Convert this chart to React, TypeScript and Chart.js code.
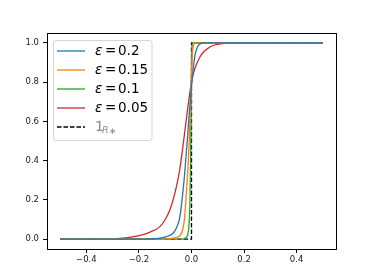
import React, { useEffect, useRef } from "react";
import { Chart, registerables } from "chart.js";

Chart.register(...registerables);

const X_TICKS = [-0.4, -0.2, 0.0, 0.2, 0.4];
const Y_TICKS = [0.0, 0.2, 0.4, 0.6, 0.8, 1.0];

const LABELS = ["ε = 0.2", "ε = 0.15", "ε = 0.1", "ε = 0.05"];
const COLORS = ["#1f77b4", "#ff7f0e", "#2ca02c", "#d62728"];

const X_BLUE = [-0.5, -0.2, -0.15, -0.12, -0.095, -0.07, -0.055, -0.044, -0.032, -0.025, -0.015, -0.008, 0, 0.006, 0.013, 0.02, 0.025, 0.035, 0.045, 0.06, 0.5];
const Y_BLUE = [0, 0, 0.001, 0.005, 0.013, 0.03, 0.065, 0.115, 0.25, 0.35, 0.52, 0.65, 0.78, 0.86, 0.935, 0.97, 0.985, 0.996, 1, 1, 1];

const X_ORANGE = [-0.5, -0.1, -0.07, -0.05, -0.038, -0.03, -0.025, -0.017, -0.013, -0.008, -0.004, 0, 0.004, 0.008, 0.012, 0.5];
const Y_ORANGE = [0, 0, 0.005, 0.012, 0.03, 0.07, 0.13, 0.29, 0.37, 0.52, 0.68, 0.84, 0.95, 0.99, 1, 1];

const X_GREEN = [-0.5, -0.03, -0.025, -0.018, -0.013, -0.009, -0.006, -0.004, -0.002, 0, 0.002, 0.004, 0.5];
const Y_GREEN = [0, 0, 0.005, 0.012, 0.03, 0.08, 0.18, 0.35, 0.6, 0.88, 0.98, 1, 1];

const X_RED = [-0.5, -0.3, -0.25, -0.2, -0.16, -0.12, -0.1, -0.082, -0.07, -0.057, -0.044, -0.03, -0.015, 0, 0.013, 0.031, 0.045, 0.063, 0.08, 0.1, 0.135, 0.2, 0.5];
const Y_RED = [0, 0.002, 0.006, 0.018, 0.035, 0.064, 0.1, 0.15, 0.2, 0.27, 0.36, 0.5, 0.66, 0.8, 0.87, 0.925, 0.952, 0.972, 0.985, 0.992, 0.998, 1, 1];

const X_STEP = [-0.5, 0, 0, 0.5];
const Y_STEP = [0, 0, 1, 1];

const pts = (xs: number[], ys: number[]) => xs.map((x, i) => ({ x, y: ys[i] }));

const legendPlugin = {
  id: "boxLegend",
  afterDraw(chart: any) {
    const ctx = chart.ctx as CanvasRenderingContext2D;
    const area = chart.chartArea;
    const bx = area.left + 6, by = area.top + 7, bw = 98.5, bh = 100;
    ctx.save();
    ctx.globalAlpha = 0.8;
    ctx.fillStyle = "#ffffff";
    ctx.beginPath();
    (ctx as any).roundRect(bx + 0.5, by + 0.5, bw, bh, 2.5);
    ctx.fill();
    ctx.globalAlpha = 1;
    ctx.strokeStyle = "#d6d6d6";
    ctx.lineWidth = 1;
    ctx.stroke();
    const rowH = 19;
    const y0 = by + 11;
    const lx0 = bx + 4, lx1 = bx + 32, tx = bx + 42;
    chart.data.datasets.forEach((ds: any, i: number) => {
      const y = y0 + i * rowH;
      ctx.strokeStyle = ds.borderColor;
      ctx.lineWidth = 1.3;
      ctx.setLineDash(ds.borderDash || []);
      ctx.beginPath();
      ctx.moveTo(lx0, y);
      ctx.lineTo(lx1, y);
      ctx.stroke();
      ctx.setLineDash([]);
      ctx.textBaseline = "middle";
      ctx.textAlign = "left";
      if (i < LABELS.length) {
        const parts = LABELS[i].split(" = ");
        ctx.fillStyle = "#000";
        ctx.font = "italic 13.5px 'DejaVu Sans'";
        ctx.fillText(parts[0], tx, y + 0.5);
        ctx.font = "13.5px 'DejaVu Sans'";
        ctx.fillText("=", tx + 10, y + 0.5);
        ctx.fillText(parts[1], tx + 23, y + 0.5);
      } else {
        ctx.fillStyle = "#8a8a8a";
        ctx.font = "14px 'DejaVu Sans'";
        ctx.fillText("1", tx, y);
        ctx.font = "italic 9.5px 'DejaVu Sans'";
        ctx.fillText("R", tx + 7, y + 4);
        ctx.font = "9px 'DejaVu Sans'";
        ctx.fillText("∗", tx + 14, y + 4.5);
      }
    });
    ctx.restore();
  },
};

const framePlugin = {
  id: "frame",
  afterDatasetsDraw(chart: any) {
    const { ctx, chartArea: a } = chart;
    ctx.save();
    ctx.strokeStyle = "#000";
    ctx.lineWidth = 1;
    ctx.strokeRect(Math.round(a.left) + 0.5, Math.round(a.top) + 0.5, Math.round(a.right - a.left), Math.round(a.bottom - a.top));
    ctx.restore();
  },
};

export default function App() {
  const ref = useRef<HTMLCanvasElement | null>(null);
  useEffect(() => {
    if (!ref.current) return;
    const curve = (label: string, color: string, data: any) => ({
      label,
      data,
      borderColor: color,
      backgroundColor: color,
      borderWidth: 1.3,
      pointRadius: 0,
      showLine: true,
      cubicInterpolationMode: "monotone" as const,
    });
    const chart = new Chart(ref.current, {
      type: "scatter",
      data: {
        datasets: [
          curve(LABELS[0], COLORS[0], pts(X_BLUE, Y_BLUE)),
          curve(LABELS[1], COLORS[1], pts(X_ORANGE, Y_ORANGE)),
          curve(LABELS[2], COLORS[2], pts(X_GREEN, Y_GREEN)),
          curve(LABELS[3], COLORS[3], pts(X_RED, Y_RED)),
          {
            label: "1_R*",
            data: pts(X_STEP, Y_STEP),
            borderColor: "#000000",
            backgroundColor: "#000000",
            borderWidth: 1.3,
            borderDash: [4.5, 2],
            pointRadius: 0,
            showLine: true,
          } as any,
        ],
      },
      options: {
        animation: false,
        responsive: false,
        devicePixelRatio: 1,
        layout: { padding: { left: 7, right: 38, top: 33, bottom: 11 } },
        plugins: { legend: { display: false }, tooltip: { enabled: false } },
        scales: {
          x: {
            type: "linear",
            min: -0.55,
            max: 0.55,
            afterBuildTicks: (axis: any) => {
              axis.ticks = X_TICKS.map((v) => ({ value: v }));
            },
            afterFit: (axis: any) => {
              axis.height = 20;
            },
            grid: { drawOnChartArea: false, drawTicks: true, tickLength: 4, color: "#000" },
            border: { display: true, color: "#000" },
            ticks: {
              padding: 2,
              color: "#1a1a1a",
              font: { family: "'DejaVu Sans'", size: 8.5 },
              callback: (v: any) => Number(v).toFixed(1).replace("-", "−"),
              maxRotation: 0,
            },
          },
          y: {
            type: "linear",
            min: -0.05,
            max: 1.05,
            afterBuildTicks: (axis: any) => {
              axis.ticks = Y_TICKS.map((v) => ({ value: v }));
            },
            afterFit: (axis: any) => {
              axis.width = 40;
            },
            grid: { drawOnChartArea: false, drawTicks: true, tickLength: 4, color: "#000" },
            border: { display: true, color: "#000" },
            ticks: {
              padding: 4,
              color: "#1a1a1a",
              font: { family: "'DejaVu Sans'", size: 8.5 },
              callback: (v: any) => Number(v).toFixed(1),
            },
          },
        },
      },
      plugins: [framePlugin, legendPlugin],
    });
    return () => chart.destroy();
  }, []);
  return (
    <div style={{ position: "absolute", left: 0, top: 0, width: 374, height: 280, background: "#fff" }}>
      <canvas ref={ref} width={374} height={280} style={{ width: 374, height: 280, display: "block" }} />
    </div>
  );
}
